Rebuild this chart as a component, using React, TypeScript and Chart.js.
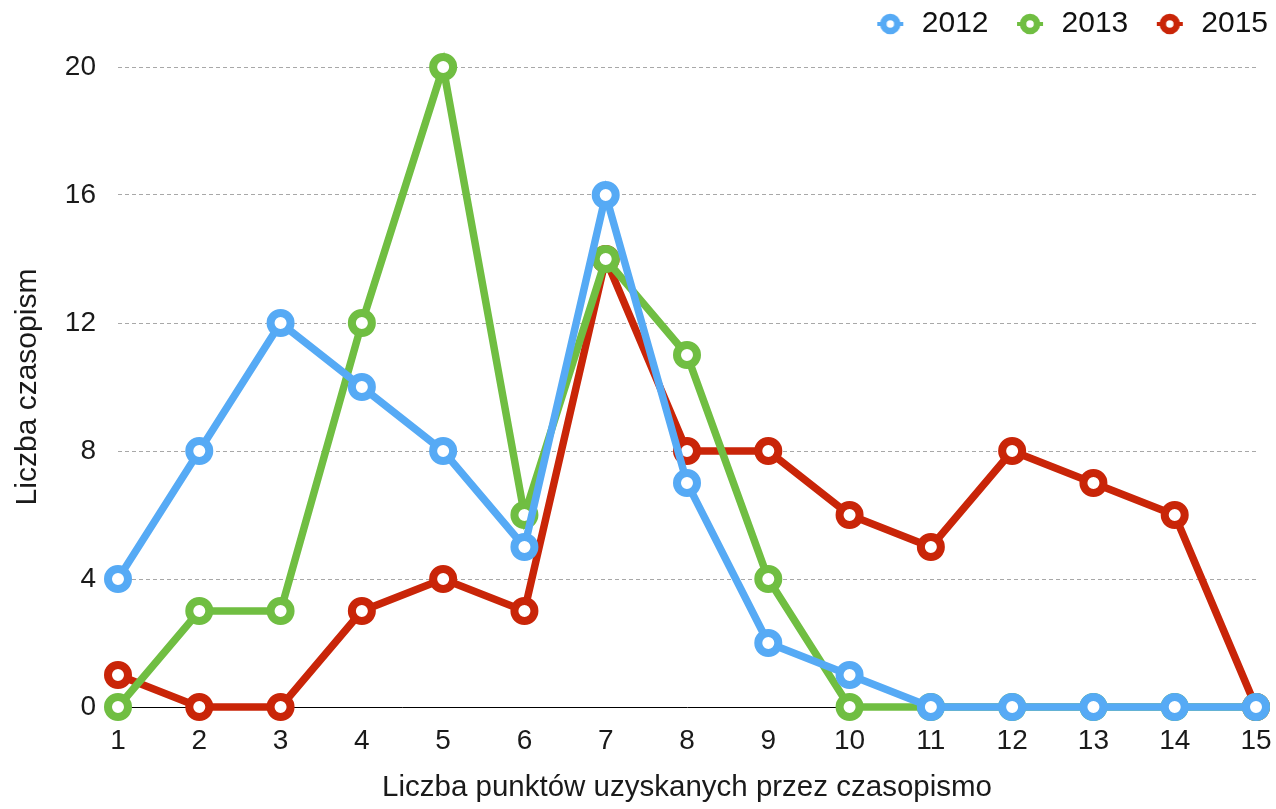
import React, { useEffect, useRef } from "react";
import { Chart, registerables } from "chart.js";

Chart.register(...registerables);

const categories = ["1", "2", "3", "4", "5", "6", "7", "8", "9", "10", "11", "12", "13", "14", "15"];
const seriesNames = ["2012", "2013", "2015"];
const values2012 = [4, 8, 12, 10, 8, 5, 16, 7, 2, 1, 0, 0, 0, 0, 0];
const values2013 = [0, 3, 3, 12, 20, 6, 14, 11, 4, 0, 0, 0, 0, 0, 0];
const values2015 = [1, 0, 0, 3, 4, 3, 14, 8, 8, 6, 5, 8, 7, 6, 0];
const seriesColors = ["#56aaf5", "#70be42", "#c92508"];
const yTitle = "Liczba czasopism";
const xTitle = "Liczba punktów uzyskanych przez czasopismo";

const FONT = "'Liberation Sans', Arial, Helvetica, sans-serif";

function makeRing(color: string): HTMLCanvasElement {
  const c = document.createElement("canvas");
  c.width = 30;
  c.height = 22;
  const ctx = c.getContext("2d")!;
  ctx.strokeStyle = color;
  ctx.lineWidth = 4;
  ctx.beginPath();
  ctx.moveTo(2, 11);
  ctx.lineTo(28, 11);
  ctx.stroke();
  ctx.beginPath();
  ctx.arc(15, 11, 7, 0, Math.PI * 2);
  ctx.fillStyle = "#ffffff";
  ctx.fill();
  ctx.lineWidth = 6.5;
  ctx.stroke();
  return c;
}

const shiftLegend = {
  id: "shiftLegend",
  afterLayout(chart: any) {
    const l = chart.legend;
    if (l) {
      l.top -= 18;
      l.bottom -= 18;
    }
  },
};

export default function App() {
  const ref = useRef<HTMLCanvasElement | null>(null);

  useEffect(() => {
    if (!ref.current) return;
    const rings = seriesColors.map(makeRing);
    const allValues = [values2012, values2013, values2015];
    const chart = new Chart(ref.current, {
      type: "line",
      data: {
        labels: categories,
        datasets: seriesNames.map((name, i) => ({
          label: name,
          data: allValues[i],
          borderColor: seriesColors[i],
          backgroundColor: seriesColors[i],
          borderWidth: 7.5,
          pointRadius: 10,
          pointHoverRadius: 10,
          pointBorderWidth: 8,
          pointBackgroundColor: "#ffffff",
          pointBorderColor: seriesColors[i],
          tension: 0,
          clip: false as any,
          fill: false,
        })),
      },
      plugins: [shiftLegend],
      options: {
        responsive: false,
        animation: false,
        layout: { padding: { top: 0, right: -17, left: 0, bottom: 0 } },
        plugins: {
          tooltip: { enabled: false },
          legend: {
            display: true,
            position: "top",
            align: "end",
            labels: {
              usePointStyle: true,
              pointStyleWidth: 33,
              padding: 25,
              color: "#111111",
              font: { family: FONT, size: 30 },
              generateLabels: (ch: any) => {
                const items = (Chart.defaults.plugins.legend.labels as any).generateLabels(ch);
                return items.map((it: any, i: number) => ({ ...it, pointStyle: rings[i] }));
              },
            },
          },
        },
        scales: {
          x: {
            type: "category",
            offset: false,
            grid: { display: false },
            border: { display: true, color: "#000000", width: 1 },
            ticks: {
              color: "#1a1a1a",
              font: { family: FONT, size: 28 },
              padding: 9,
              maxRotation: 0,
              autoSkip: false,
            },
            title: {
              display: true,
              text: xTitle,
              color: "#1a1a1a",
              font: { family: FONT, size: 29.5 },
              padding: { top: 4, bottom: 3 },
            },
            afterFit: (scale: any) => {
              scale.height = 102;
              scale.paddingRight = 20;
              scale.paddingLeft = 0;
            },
          },
          y: {
            min: 0,
            max: 20,
            grid: {
              drawTicks: false,
              lineWidth: 1,
              color: (ctx: any) => (ctx.tick && ctx.tick.value === 0 ? "rgba(0,0,0,0)" : "#a8a8a8"),
            },
            border: { display: false, dash: [4, 3] },
            ticks: {
              stepSize: 4,
              color: "#1a1a1a",
              font: { family: FONT, size: 28 },
              padding: 22,
            },
            title: {
              display: true,
              text: yTitle,
              color: "#1a1a1a",
              font: { family: FONT, size: 30 },
              padding: { top: 10, bottom: 4 },
            },
            afterFit: (scale: any) => {
              scale.width = 118;
              scale.paddingTop = 67;
            },
          },
        },
      },
    } as any);
    return () => chart.destroy();
  }, []);

  return (
    <div style={{ position: "absolute", left: 0, top: 0, width: 1276, height: 809 }}>
      <canvas ref={ref} width={1276} height={809} style={{ display: "block" }} />
    </div>
  );
}
